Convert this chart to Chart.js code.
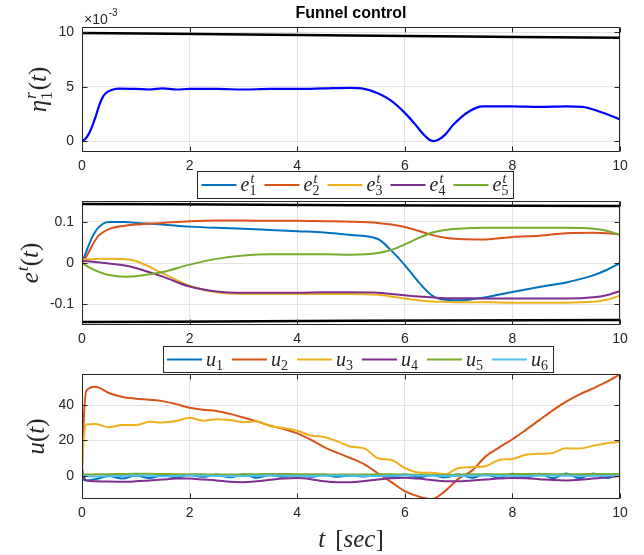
<!DOCTYPE html>
<html>
<head>
<meta charset="utf-8">
<script src="https://cdn.jsdelivr.net/npm/chart.js@4.4.0/dist/chart.umd.min.js"></script>
<style>
  html, body { margin: 0; padding: 0; background: #fff; }
  #wrap { position: relative; width: 644px; height: 555px; }
  #wrap canvas { position: absolute; left: 0; top: 0; }
</style>
</head>
<body>
<div id="wrap">
  <canvas id="c1" width="644" height="555"></canvas>
  <canvas id="c2" width="644" height="555"></canvas>
  <canvas id="c3" width="644" height="555"></canvas>
</div>
<script>
// ---- data ----
const xTicks = [0, 2, 4, 6, 8, 10];

// top panel (values in units of 1e-3)
const etaT = [0, 0.07, 0.14, 0.2, 0.25, 0.32, 0.38, 0.45, 0.55, 0.7, 1, 1.25, 1.5, 1.75, 2, 2.5, 3, 3.5, 4, 4.5, 5, 5.2, 5.5, 5.75, 6, 6.2, 6.35, 6.45, 6.53, 6.62, 6.75, 6.9, 7.2, 7.45, 8, 8.5, 9, 9.3, 9.6, 10];
const etaV = [0, 0.25, 0.8, 1.5, 2.2, 3.3, 4.0, 4.45, 4.7, 4.83, 4.8, 4.75, 4.85, 4.75, 4.8, 4.8, 4.75, 4.8, 4.8, 4.85, 4.9, 4.85, 4.4, 3.7, 2.6, 1.5, 0.6, 0.15, 0.0, 0.12, 0.6, 1.5, 2.75, 3.2, 3.2, 3.15, 3.2, 3.15, 2.75, 2.0];
const etaFunT = [0, 5, 10];
const etaFunV = [9.95, 9.72, 9.5];
const etaTicks = [0, 5, 10];

// middle panel
const tE = [0, 0.1, 0.2, 0.3, 0.5, 0.8, 1, 1.5, 2, 2.5, 3, 3.5, 4, 4.5, 5, 5.5, 5.75, 6, 6.25, 6.5, 6.75, 7, 7.5, 8, 8.5, 9, 9.5, 9.75, 10];
const e1 = [0, 0.035, 0.065, 0.085, 0.099, 0.099, 0.097, 0.093, 0.088, 0.085, 0.083, 0.08, 0.077, 0.074, 0.068, 0.058, 0.03, -0.005, -0.045, -0.078, -0.089, -0.09, -0.083, -0.07, -0.058, -0.047, -0.03, -0.017, 0.0];
const e2 = [0, 0.02, 0.045, 0.065, 0.082, 0.09, 0.093, 0.097, 0.101, 0.103, 0.103, 0.102, 0.102, 0.101, 0.1, 0.097, 0.093, 0.087, 0.078, 0.068, 0.061, 0.058, 0.057, 0.063, 0.066, 0.072, 0.073, 0.072, 0.069];
const e3 = [0.008, 0.009, 0.009, 0.01, 0.01, 0.009, 0.005, -0.025, -0.055, -0.071, -0.075, -0.075, -0.075, -0.075, -0.075, -0.077, -0.081, -0.086, -0.09, -0.093, -0.094, -0.095, -0.095, -0.096, -0.096, -0.096, -0.094, -0.089, -0.079];
const e4 = [0.005, 0.004, 0.003, 0.002, -0.001, -0.006, -0.012, -0.033, -0.057, -0.069, -0.072, -0.072, -0.072, -0.071, -0.071, -0.072, -0.075, -0.078, -0.081, -0.083, -0.085, -0.085, -0.086, -0.086, -0.086, -0.086, -0.083, -0.078, -0.068];
const e5 = [0, -0.008, -0.015, -0.021, -0.029, -0.033, -0.032, -0.022, -0.004, 0.01, 0.018, 0.021, 0.021, 0.021, 0.02, 0.024, 0.032, 0.045, 0.06, 0.073, 0.08, 0.083, 0.085, 0.085, 0.085, 0.085, 0.083, 0.078, 0.068];
const eFunT = [0, 5, 10];
const eFunUp = [0.143, 0.140, 0.138];
const eFunLo = [-0.143, -0.140, -0.138];
const eTicks = [-0.1, 0, 0.1];

// bottom panel
const tU = [0, 0.03, 0.08, 0.25, 0.5, 0.75, 1, 1.25, 1.5, 1.75, 2, 2.25, 2.5, 2.75, 3, 3.25, 3.5, 3.75, 4, 4.25, 4.5, 4.75, 5, 5.25, 5.5, 5.75, 6, 6.25, 6.5, 6.75, 7, 7.25, 7.5, 7.75, 8, 8.25, 8.5, 8.75, 9, 9.25, 9.5, 9.75, 10];
const u1 = [0, -2, -2.5, -1.8, 0, -1.5, 0.2, -1.2, 0.3, -0.8, 0.5, -0.5, 0.8, -0.8, 1, -1, 0.5, -0.5, 0.3, -0.5, 0.5, -0.5, 0.3, -0.3, 0.5, -0.5, 0.8, -0.8, 0.5, -0.8, 0.8, -1, 1, -1.2, 1.2, -1.2, 1.3, -1.3, 1.4, -1.3, 1.4, -1.2, 1.2];
const u2 = [2, 30, 48, 50.3, 46.8, 44.5, 43.6, 43, 42.2, 40.5, 38.5, 37.3, 36.6, 35, 33, 30.8, 28.4, 26.5, 24, 20.5, 16.3, 13, 10, 6.5, 1.5, -3.5, -8.5, -11.5, -13, -8.5, -1.5, 3, 10.9, 16, 20.7, 26, 31.5, 37, 41.9, 46, 49.4, 53, 57.3];
const u3 = [3, 20, 29, 29.3, 27.5, 28.8, 28.7, 30.5, 30.2, 31, 32.8, 31.2, 32, 31.5, 30.3, 30.8, 28, 27, 25.5, 22.8, 22, 19.5, 16.5, 15.5, 10, 9, 4.5, 2, 1.8, 1, 4.5, 5, 5.5, 9, 9.6, 12, 12.5, 13, 15.6, 15.5, 17, 18.5, 19.3];
const u4 = [4.5, 0, -2.5, -3, -3.2, -3.3, -3, -2.5, -2, -1.5, -1.5, -2, -2.5, -3.3, -3.5, -3, -2.2, -1.5, -1.2, -1.8, -3, -3.5, -3.5, -2.8, -2, -1.3, -1, -1.5, -2.3, -3, -3, -2.5, -2, -1.5, -1.2, -1.3, -1.8, -2.3, -2.5, -2.2, -1.5, -0.8, 0];
const u5 = [1.5, 1, 0.8, 0.9, 1, 1.1, 1.2, 1.2, 1.1, 1, 1, 0.9, 0.8, 0.8, 0.9, 1, 1.1, 1.1, 1, 1, 0.9, 0.8, 0.8, 0.8, 0.9, 0.9, 0.8, 0.7, 0.5, 0.6, 0.8, 0.9, 1, 1, 1, 1.1, 1.1, 1, 1, 1, 1.1, 1.1, 1];
const u6 = [1, 0.3, 0, -0.3, -0.2, 0, 0.2, 0.1, -0.1, 0, 0.2, 0.1, 0, -0.1, 0, 0.1, 0.2, 0.1, 0, 0, 0.1, 0.2, 0.1, 0, 0, 0.1, 0.2, 0.2, 0.1, 0, 0, 0.1, 0.2, 0.1, 0, 0, 0.1, 0.2, 0.1, 0, 0, 0.1, 0.2];
const uTicks = [0, 20, 40];

const colors = ['#0072BD', '#D95319', '#EDB120', '#7E2F8E', '#77AC30', '#4DBEEE'];

// ---- helpers ----
const SANS = '"Liberation Sans", Arial, Helvetica, sans-serif';
const SERIF = '"Liberation Serif", "Times New Roman", serif';
const AX = '#262626';

const pts = (ts, vs) => ts.map((t, i) => ({ x: t, y: vs[i] }));

function isLetter(s) { return /[A-Za-z\u0370-\u03ff]/.test(s); }
function mfont(size, s) { return (isLetter(s) ? 'italic ' : '') + size + 'px ' + SERIF; }

function mathWidth(ctx, toks, size) {
  let w = 0;
  toks.forEach(t => {
    ctx.font = mfont(size, t.b);
    w += ctx.measureText(t.b).width + (t.gap || 0);
    let sw = 0;
    [t.sup, t.sub].forEach(s => {
      if (s) { ctx.font = mfont(size * 0.7, s); sw = Math.max(sw, ctx.measureText(s).width + 1); }
    });
    w += sw;
  });
  return w;
}

function drawMath(ctx, toks, x, y, size) {
  let cx = x;
  ctx.textAlign = 'left';
  ctx.textBaseline = 'alphabetic';
  toks.forEach(t => {
    ctx.font = mfont(size, t.b);
    ctx.fillText(t.b, cx, y);
    cx += ctx.measureText(t.b).width;
    let sw = 0;
    if (t.sup) {
      ctx.font = mfont(size * 0.7, t.sup);
      ctx.fillText(t.sup, cx + 1, y - size * 0.42);
      sw = Math.max(sw, ctx.measureText(t.sup).width + 1);
    }
    if (t.sub) {
      ctx.font = mfont(size * 0.7, t.sub);
      ctx.fillText(t.sub, cx, y + size * 0.22);
      sw = Math.max(sw, ctx.measureText(t.sub).width + 1);
    }
    cx += sw + (t.gap || 0);
  });
}

// box, inward ticks and text for each panel
function framePlugin(cfg) {
  return {
    id: 'frame',
    afterDatasetsDraw(chart) {
      const { ctx, chartArea: a, scales: { x, y } } = chart;
      const L = Math.round(a.left) + 0.5, R = Math.round(a.right) - 0.5;
      const T = Math.round(a.top) + 0.5, B = Math.round(a.bottom) - 0.5;
      ctx.save();
      ctx.strokeStyle = AX;
      ctx.lineWidth = 1;
      ctx.beginPath();
      ctx.rect(L, T, R - L, B - T);
      x.ticks.forEach(t => {
        const px = Math.round(x.getPixelForValue(t.value)) + 0.5;
        ctx.moveTo(px, B); ctx.lineTo(px, B - 5);
        ctx.moveTo(px, T); ctx.lineTo(px, T + 5);
      });
      y.ticks.forEach(t => {
        const py = Math.round(y.getPixelForValue(t.value)) + 0.5;
        ctx.moveTo(L, py); ctx.lineTo(L + 5, py);
        ctx.moveTo(R, py); ctx.lineTo(R - 5, py);
      });
      ctx.stroke();
      ctx.restore();
    },
    afterDraw(chart) {
      const { ctx, chartArea: a } = chart;
      const midX = (a.left + a.right) / 2;
      ctx.save();
      ctx.fillStyle = AX;
      if (cfg.title) {
        ctx.fillStyle = '#000';
        ctx.font = 'bold 16px ' + SANS;
        ctx.textAlign = 'center';
        ctx.textBaseline = 'alphabetic';
        ctx.fillText(cfg.title, midX, 18);
        ctx.fillStyle = AX;
      }
      if (cfg.exponent) {
        ctx.font = '14px ' + SANS;
        ctx.textAlign = 'left';
        ctx.textBaseline = 'alphabetic';
        ctx.fillText('\u00d710', a.left + 2, a.top - 3);
        const w = ctx.measureText('\u00d710').width;
        ctx.font = '10px ' + SANS;
        ctx.fillText(cfg.exponent, a.left + 3 + w, a.top - 11);
      }
      if (cfg.yTitle) {
        ctx.save();
        ctx.translate(cfg.yTitleX, (a.top + a.bottom) / 2);
        ctx.rotate(-Math.PI / 2);
        const w = mathWidth(ctx, cfg.yTitle, 25);
        drawMath(ctx, cfg.yTitle, -w / 2, 0, 25);
        ctx.restore();
      }
      if (cfg.xTitle) {
        const w = mathWidth(ctx, cfg.xTitle, 25);
        drawMath(ctx, cfg.xTitle, midX - w / 2, 547, 25);
      }
      if (cfg.legend) {
        const o = cfg.legend;
        ctx.fillStyle = '#fff';
        ctx.fillRect(o.x, o.y, o.w, o.h);
        ctx.strokeStyle = AX;
        ctx.lineWidth = 1;
        ctx.strokeRect(o.x + 0.5, o.y + 0.5, o.w, o.h);
        const cy = o.y + o.h / 2 + 0.5;
        chart.data.datasets.filter(d => d.tex).forEach((d, i) => {
          const x0 = o.x + o.start + i * o.stride;
          ctx.strokeStyle = d.borderColor;
          ctx.lineWidth = 2;
          ctx.beginPath();
          ctx.moveTo(x0, cy);
          ctx.lineTo(x0 + 35, cy);
          ctx.stroke();
          ctx.fillStyle = AX;
          drawMath(ctx, d.tex, x0 + 39, cy + o.base, o.size);
        });
      }
      ctx.restore();
    }
  };
}

function line(label, data, color, width, order, tex) {
  return {
    label, data, tex,
    borderColor: color,
    borderWidth: width,
    pointRadius: 0,
    fill: false,
    cubicInterpolationMode: 'monotone',
    order
  };
}

function panelOptions(top, bottom, yMin, yMax, yTicks) {
  const tickFont = { family: SANS, size: 14 };
  return {
    responsive: false,
    animation: false,
    devicePixelRatio: 1,
    events: [],
    layout: { padding: { left: 0, right: 24, top: top, bottom: 555 - bottom - 20 } },
    plugins: { legend: { display: false }, tooltip: { enabled: false } },
    scales: {
      x: {
        type: 'linear', min: 0, max: 10,
        afterBuildTicks: s => { s.ticks = xTicks.map(v => ({ value: v })); },
        afterFit: s => { s.height = 20; },
        grid: { color: '#e3e3e3', drawTicks: false },
        border: { display: false },
        ticks: { font: tickFont, color: AX, padding: 6, autoSkip: false, maxRotation: 0, callback: v => String(v) }
      },
      y: {
        type: 'linear', min: yMin, max: yMax,
        afterBuildTicks: s => { s.ticks = yTicks.map(v => ({ value: v })); },
        afterFit: s => { s.width = 82; },
        grid: { color: '#e3e3e3', drawTicks: false },
        border: { display: false },
        ticks: { font: tickFont, color: AX, padding: 8, callback: v => String(v) }
      }
    }
  };
}

// ---- top panel ----
new Chart(document.getElementById('c1'), {
  type: 'line',
  data: {
    datasets: [
      line('eta', pts(etaT, etaV), '#0000FF', 2.2, 0),
      line('funnel', pts(etaFunT, etaFunV), '#000000', 2.5, -1)
    ]
  },
  options: panelOptions(27, 152, -1, 10.5, etaTicks),
  plugins: [framePlugin({
    title: 'Funnel control',
    exponent: '-3',
    yTitleX: 46,
    yTitle: [{ b: '\u03b7', sup: 'r', sub: '1' }, { b: '(' }, { b: 't' }, { b: ')' }]
  })]
});

// ---- middle panel ----
const eSeries = [e1, e2, e3, e4, e5];
new Chart(document.getElementById('c2'), {
  type: 'line',
  data: {
    datasets: eSeries.map((v, i) => line('e' + (i + 1), pts(tE, v), colors[i], 2, -i,
      [{ b: 'e', sup: 't', sub: String(i + 1) }]))
      .concat([
        line('upper', pts(eFunT, eFunUp), '#000000', 2.5, -6),
        line('lower', pts(eFunT, eFunLo), '#000000', 2.5, -7)
      ])
  },
  options: panelOptions(201, 325, -0.15, 0.15, eTicks),
  plugins: [framePlugin({
    yTitleX: 38,
    yTitle: [{ b: 'e', sup: 't' }, { b: '(' }, { b: 't' }, { b: ')' }],
    legend: { x: 197, y: 171, w: 316, h: 27, start: 4.5, stride: 63, size: 20, base: 6 }
  })]
});

// ---- bottom panel ----
const uSeries = [u1, u2, u3, u4, u5, u6];
new Chart(document.getElementById('c3'), {
  type: 'line',
  data: {
    datasets: uSeries.map((v, i) => line('u' + (i + 1), pts(tU, v), colors[i], 2, -i,
      [{ b: 'u', sub: String(i + 1) }]))
  },
  options: panelOptions(374, 499, -13, 57.5, uTicks),
  plugins: [framePlugin({
    yTitleX: 44,
    yTitle: [{ b: 'u' }, { b: '(' }, { b: 't' }, { b: ')' }],
    xTitle: [{ b: 't', gap: 10 }, { b: '[' }, { b: 'sec' }, { b: ']' }],
    legend: { x: 163, y: 346, w: 390, h: 26, start: 4, stride: 65, size: 20, base: 6 }
  })]
});
</script>
</body>
</html>
